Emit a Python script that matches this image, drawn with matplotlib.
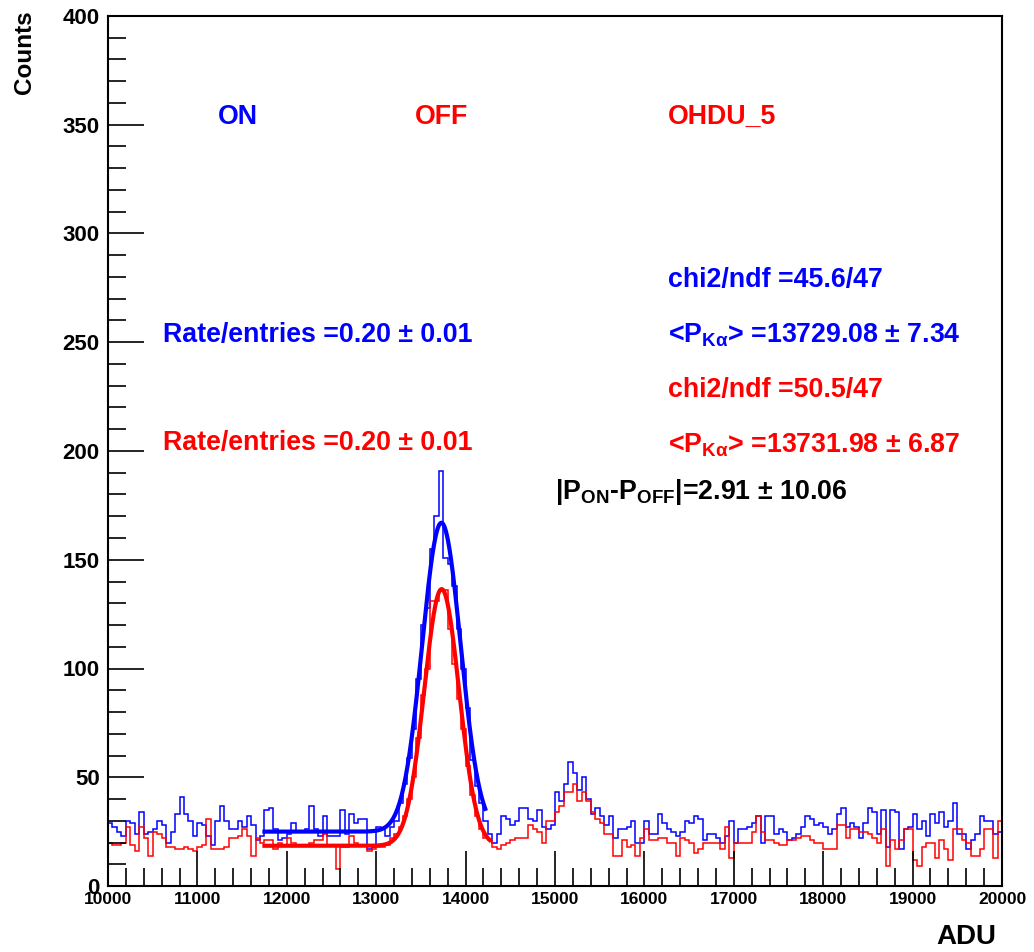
import numpy as np
import matplotlib
matplotlib.use("Agg")
import matplotlib.pyplot as plt
from matplotlib.ticker import MultipleLocator

plt.rcParams['font.family'] = ['Liberation Sans', 'DejaVu Sans']
plt.rcParams['mathtext.fontset'] = 'custom'
plt.rcParams['mathtext.rm'] = 'Liberation Sans:bold'
plt.rcParams['mathtext.bf'] = 'Liberation Sans:bold'
plt.rcParams['mathtext.it'] = 'Liberation Sans:bold'
plt.rcParams['mathtext.sf'] = 'Liberation Sans:bold'

# ---- data ----
x_min, x_max, bin_width = 10000, 20000, 50
counts_on = [29, 27, 25, 23, 30, 29, 24, 34, 24, 25,
             26, 30, 28, 20, 25, 33, 41, 33, 30, 23,
             29, 28, 23, 19, 30, 37, 30, 26, 26, 30,
             27, 32, 28, 21, 23, 35, 36, 26, 21, 22,
             24, 29, 25, 25, 26, 37, 26, 23, 32, 23,
             23, 23, 35, 24, 33, 29, 31, 31, 17, 18,
             27, 26, 23, 27, 30, 38, 47, 59, 72, 95,
             120, 128, 155, 170, 191, 151, 148, 138, 118, 100,
             82, 58, 46, 38, 30, 24, 20, 24, 32, 31,
             28, 30, 36, 36, 31, 30, 35, 27, 26, 28,
             43, 39, 47, 57, 52, 44, 50, 40, 33, 36,
             32, 28, 32, 22, 26, 26, 27, 30, 20, 20,
             30, 24, 24, 33, 29, 26, 25, 23, 25, 30,
             29, 32, 31, 21, 24, 24, 22, 20, 23, 30,
             20, 26, 26, 27, 29, 32, 20, 32, 32, 24,
             26, 25, 21, 22, 24, 27, 32, 31, 28, 29,
             27, 24, 26, 33, 36, 27, 29, 27, 22, 29,
             36, 34, 24, 35, 18, 35, 34, 17, 26, 27,
             33, 26, 30, 23, 33, 29, 34, 27, 30, 38,
             24, 24, 17, 21, 24, 32, 30, 30, 24, 25]
counts_off = [20, 19, 19, 20, 27, 19, 16, 27, 22, 14,
              25, 24, 22, 18, 18, 17, 17, 18, 17, 16,
              18, 19, 31, 17, 17, 17, 18, 22, 22, 23,
              26, 23, 14, 22, 20, 21, 21, 17, 20, 19,
              22, 20, 19, 19, 19, 20, 21, 21, 24, 19,
              19, 8, 18, 18, 23, 20, 19, 19, 16, 17,
              18, 18, 19, 22, 24, 27, 32, 40, 50, 68,
              88, 100, 131, 131, 136, 136, 118, 102, 86, 72,
              55, 42, 32, 26, 22, 21, 18, 17, 19, 20,
              21, 22, 22, 22, 28, 26, 25, 20, 30, 30,
              34, 37, 43, 43, 47, 39, 43, 39, 34, 31,
              29, 24, 24, 14, 14, 21, 18, 19, 14, 22,
              26, 21, 21, 22, 22, 20, 20, 14, 22, 21,
              20, 15, 17, 20, 20, 20, 20, 17, 27, 13,
              20, 20, 20, 20, 25, 32, 25, 21, 21, 20,
              19, 19, 21, 21, 22, 23, 23, 21, 20, 20,
              17, 17, 17, 28, 28, 22, 26, 26, 25, 25,
              24, 22, 20, 26, 9, 21, 17, 21, 26, 26,
              12, 9, 18, 20, 20, 13, 21, 17, 12, 26,
              26, 21, 20, 14, 14, 17, 26, 26, 13, 30]

# fit parameters (constant + gaussian) and fit ranges
fit_range_on = (11750, 14220)
fit_range_off = (11750, 14270)
fit_on = dict(const=25.0, amp=142.0, mean=13729.08, sigma=215.0)
fit_off = dict(const=18.5, amp=118.0, mean=13731.98, sigma=195.0)

BLUE = '#0000ff'
RED = '#ff0000'

edges = np.arange(x_min, x_max + bin_width, bin_width)

fig = plt.figure(figsize=(10.34, 9.52), dpi=100)
ax = fig.add_axes([108/1034, 1-886/952, (1002-108)/1034, (886-16)/952])

ax.stairs(counts_on, edges, color=BLUE, lw=1.1, baseline=None)
ax.stairs(counts_off, edges, color=RED, lw=1.1, baseline=None)

def model(x, p):
    return p['const'] + p['amp']*np.exp(-0.5*((x-p['mean'])/p['sigma'])**2)

xf_on = np.linspace(fit_range_on[0], fit_range_on[1], 600)
xf_off = np.linspace(fit_range_off[0], fit_range_off[1], 600)
ax.plot(xf_on, model(xf_on, fit_on), color=BLUE, lw=3)
ax.plot(xf_off, model(xf_off, fit_off), color=RED, lw=3)

ax.set_xlim(x_min, x_max)
ax.set_ylim(0, 400)
ax.xaxis.set_major_locator(MultipleLocator(1000))
ax.xaxis.set_minor_locator(MultipleLocator(200))
ax.yaxis.set_major_locator(MultipleLocator(50))
ax.yaxis.set_minor_locator(MultipleLocator(10))
ax.tick_params(which='both', direction='in', top=False, right=False, color='black')
ax.tick_params(which='major', axis='x', length=25, width=1.2, labelsize=12.5, pad=4)
ax.tick_params(which='minor', axis='x', length=13, width=1.2)
ax.tick_params(which='major', axis='y', length=26, width=1.2, labelsize=16, pad=6)
ax.tick_params(which='minor', axis='y', length=13, width=1.2)
for lab in ax.get_xticklabels() + ax.get_yticklabels():
    lab.set_fontweight('bold')
for s in ax.spines.values():
    s.set_linewidth(1.5)

def ftext(x, y, s, **kw):
    fig.text(x/1034, 1-y/952, s, fontweight='bold', **kw)

ftext(25, 10, 'Counts', rotation=90, ha='center', va='top', fontsize=17.5)
ftext(996, 937, 'ADU', ha='right', va='center', fontsize=20)

fs = 19.3
ftext(218, 117, 'ON', color=BLUE, va='center', fontsize=fs)
ftext(415, 117, 'OFF', color=RED, va='center', fontsize=fs)
ftext(668, 117, 'OHDU_5', color=RED, va='center', fontsize=fs)
ftext(668, 280, 'chi2/ndf =45.6/47', color=BLUE, va='center', fontsize=fs)
ftext(668, 335, r'<P$_{\mathrm{K\alpha}}$> =13729.08 ± 7.34', color=BLUE, va='center', fontsize=fs)
ftext(668, 390, 'chi2/ndf =50.5/47', color=RED, va='center', fontsize=fs)
ftext(668, 445, r'<P$_{\mathrm{K\alpha}}$> =13731.98 ± 6.87', color=RED, va='center', fontsize=fs)
ftext(555, 492, r'|P$_{\mathrm{ON}}$-P$_{\mathrm{OFF}}$|=2.91 ± 10.06', color='black', va='center', fontsize=fs)
ftext(163, 335, 'Rate/entries =0.20 ± 0.01', color=BLUE, va='center', fontsize=fs)
ftext(163, 443, 'Rate/entries =0.20 ± 0.01', color=RED, va='center', fontsize=fs)

fig.savefig('out.png', dpi=100)
